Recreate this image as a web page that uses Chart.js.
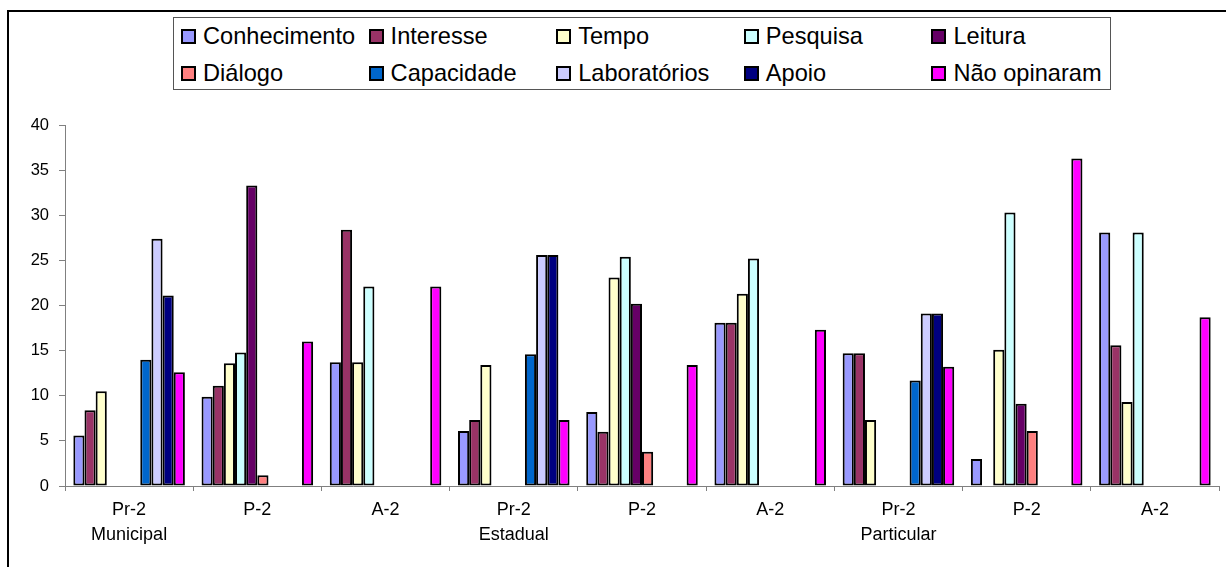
<!DOCTYPE html>
<html>
<head>
<meta charset="utf-8">
<script src="https://cdn.jsdelivr.net/npm/chart.js@4/dist/chart.umd.min.js"></script>
<style>
  body { margin: 0; background: #fff; }
  #wrap { position: relative; width: 1226px; height: 567px; overflow: hidden; font-family: "Liberation Sans", Arial, sans-serif; }
  #frame { position: absolute; left: 7px; top: 10px; width: 1400px; height: 800px; border-left: 2px solid #000; border-top: 2px solid #000; }
  #chart { position: absolute; left: 0; top: 0; }
  #legend { position: absolute; left: 173px; top: 17px; width: 936px; height: 71px; border: 1px solid #555; background: #fff; }
  .item { position: absolute; height: 26px; line-height: 26px; font-size: 23.6px; color: #000; white-space: nowrap; }
  .box { position: absolute; left: 0; top: 6px; width: 11px; height: 11px; border: 2px solid #000; }
  .item span { position: absolute; left: 22px; top: 0; }
</style>
</head>
<body>
<div id="wrap">
  <div id="frame"></div>
  <canvas id="chart" width="1226" height="567"></canvas>
  <div id="legend"></div>
</div>
<script>
// categories: grade level + school network
const levels = ['Pr-2', 'P-2', 'A-2', 'Pr-2', 'P-2', 'A-2', 'Pr-2', 'P-2', 'A-2'];
const networks = ['Municipal', '', '', 'Estadual', '', '', 'Particular', '', ''];

const seriesNames = ['Conhecimento', 'Interesse', 'Tempo', 'Pesquisa', 'Leitura',
  'Diálogo', 'Capacidade', 'Laboratórios', 'Apoio', 'Não opinaram'];
const seriesColors = ['#9999FF', '#993366', '#FFFFCC', '#CCFFFF', '#660066',
  '#FF8080', '#0066CC', '#CCCCFF', '#000080', '#FF00FF'];

// values (%) per series, one per category
const conhecimento = [5.6, 9.9, 13.7, 6.1, 8.2, 18.1, 14.7, 3.0, 28.1];
const interesse    = [8.4, 11.1, 28.4, 7.3, 6.0, 18.1, 14.7, 0, 15.6];
const tempo        = [10.5, 13.6, 13.7, 13.4, 23.1, 21.3, 7.3, 15.1, 9.3];
const pesquisa     = [0, 14.8, 22.1, 0, 25.4, 25.2, 0, 30.3, 28.1];
const leitura      = [0, 33.3, 0, 0, 20.2, 0, 0, 9.1, 0];
const dialogo      = [0, 1.2, 0, 0, 3.8, 0, 0, 6.1, 0];
const capacidade   = [14.0, 0, 0, 14.6, 0, 0, 11.7, 0, 0];
const laboratorios = [27.4, 0, 0, 25.6, 0, 0, 19.1, 0, 0];
const apoio        = [21.1, 0, 0, 25.6, 0, 0, 19.1, 0, 0];
const naoOpinaram  = [12.6, 16.0, 22.1, 7.3, 13.4, 17.3, 13.2, 36.3, 18.7];

const seriesValues = [conhecimento, interesse, tempo, pesquisa, leitura,
  dialogo, capacidade, laboratorios, apoio, naoOpinaram];

const yTicks = [0, 5, 10, 15, 20, 25, 30, 35, 40];

// html legend, 5 columns x 2 rows
const legendEl = document.getElementById('legend');
seriesNames.forEach((name, i) => {
  const col = i % 5, row = Math.floor(i / 5);
  const item = document.createElement('div');
  item.className = 'item';
  item.style.left = (7 + col * 187.6) + 'px';
  item.style.top = (5 + row * 36.5) + 'px';
  item.innerHTML = '<div class="box" style="background:' + seriesColors[i] + '"></div><span>' + name + '</span>';
  legendEl.appendChild(item);
});

const ctx = document.getElementById('chart').getContext('2d');
new Chart(ctx, {
  type: 'bar',
  data: {
    labels: levels.map((l, i) => networks[i] ? [l, networks[i]] : [l]),
    datasets: seriesNames.map((name, i) => ({
      label: name,
      data: seriesValues[i],
      backgroundColor: seriesColors[i],
      borderColor: '#000',
      borderWidth: 2,
      borderSkipped: false,
      categoryPercentage: 0.87,
      barPercentage: 1.0,
    })),
  },
  options: {
    responsive: false,
    animation: false,
    layout: { padding: { top: 125, right: 7, left: 0, bottom: 0 } },
    plugins: { legend: { display: false }, tooltip: { enabled: false } },
    scales: {
      x: {
        afterFit: (s) => { s.height = 81; },
        grid: { offset: true, drawOnChartArea: false, tickLength: 5, color: '#808080' },
        border: { color: '#808080' },
        ticks: {
          color: '#000', padding: 6, maxRotation: 0, autoSkip: false,
          font: { family: '"Liberation Sans", Arial, sans-serif', size: 18, lineHeight: 1.4 },
        },
      },
      y: {
        min: 0,
        max: 40,
        afterFit: (s) => { s.width = 65; },
        afterBuildTicks: (s) => { s.ticks = yTicks.map((v) => ({ value: v })); },
        grid: { drawOnChartArea: false, tickLength: 6, color: '#808080' },
        border: { color: '#808080' },
        ticks: {
          color: '#000', padding: 10,
          font: { family: '"Liberation Sans", Arial, sans-serif', size: 16.5 },
        },
      },
    },
  },
});
</script>
</body>
</html>
